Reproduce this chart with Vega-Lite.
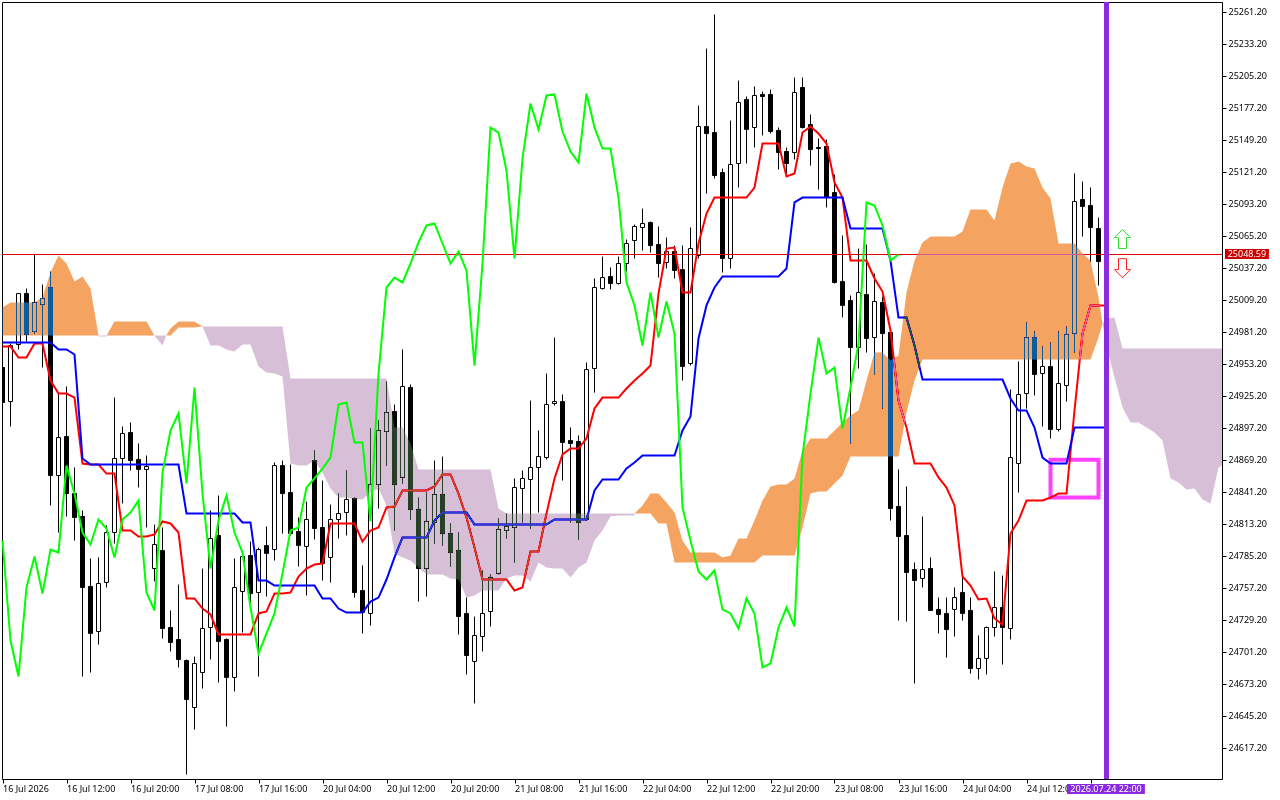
{"$schema":"https://vega.github.io/schema/vega-lite/v6.json","width":1220,"height":777,"autosize":{"type":"none"},"padding":{"left":2,"top":2,"right":58,"bottom":21},"background":"white","view":{"stroke":"black","strokeWidth":1,"fill":"white"},"config":{"font":"Noto Sans"},
"datasets":{"bars":[
{"i":0,"o":24949.7,"h":24955.8,"l":24919.1,"c":24919.1,"t":24968.1,"k":24971.6,"g":24798.3},
{"i":1,"o":24919.9,"h":24970.7,"l":24898.1,"c":24968.9,"t":24968.1,"k":24971.6,"g":24710.8},
{"i":2,"o":24969.8,"h":25014.4,"l":24965.5,"c":25014.4,"t":24958.4,"k":24971.6,"g":24679.3},
{"i":3,"o":25014.4,"h":25018.8,"l":24972.4,"c":24978.6,"t":24958.4,"k":24971.6,"g":24757.2},
{"i":4,"o":24981.2,"h":25048.6,"l":24979.4,"c":25006.6,"t":24970.7,"k":24971.6,"g":24784.3},
{"i":5,"o":25004.8,"h":25022.3,"l":24949.7,"c":25010.1,"t":24970.7,"k":24971.6,"g":24751.9},
{"i":6,"o":25019.7,"h":25033.7,"l":24829.0,"c":24855.2,"t":24938.3,"k":24971.6,"g":24790.4},
{"i":7,"o":24855.2,"h":24926.9,"l":24805.3,"c":24888.4,"t":24926.9,"k":24965.5,"g":24787.8},
{"i":8,"o":24889.3,"h":24933.1,"l":24819.3,"c":24839.4,"t":24926.9,"k":24965.5,"g":24863.9},
{"i":9,"o":24839.4,"h":24862.2,"l":24798.3,"c":24818.4,"t":24923.4,"k":24961.1,"g":24839.4},
{"i":10,"o":24819.3,"h":24824.6,"l":24679.3,"c":24757.2,"t":24865.7,"k":24870.1,"g":24805.3},
{"i":11,"o":24758.1,"h":24782.6,"l":24682.8,"c":24717.0,"t":24864.8,"k":24864.8,"g":24794.8},
{"i":12,"o":24718.7,"h":24783.5,"l":24707.3,"c":24760.7,"t":24864.8,"k":24864.8,"g":24816.7},
{"i":13,"o":24761.6,"h":24811.4,"l":24757.2,"c":24805.3,"t":24856.9,"k":24864.8,"g":24808.8},
{"i":14,"o":24805.3,"h":24923.4,"l":24795.7,"c":24870.1,"t":24856.9,"k":24864.8,"g":24783.5},
{"i":15,"o":24870.1,"h":24898.1,"l":24830.7,"c":24892.0,"t":24807.1,"k":24864.8,"g":24816.7},
{"i":16,"o":24892.8,"h":24901.6,"l":24859.6,"c":24868.3,"t":24807.1,"k":24864.8,"g":24822.8},
{"i":17,"o":24869.2,"h":24883.2,"l":24844.7,"c":24860.5,"t":24801.8,"k":24864.8,"g":24833.3},
{"i":18,"o":24860.5,"h":24872.7,"l":24809.7,"c":24863.1,"t":24801.8,"k":24864.8,"g":24752.8},
{"i":19,"o":24773.8,"h":24812.3,"l":24762.5,"c":24794.8,"t":24803.6,"k":24864.8,"g":24737.1},
{"i":20,"o":24789.6,"h":24809.7,"l":24712.6,"c":24721.3,"t":24815.0,"k":24864.8,"g":24857.8},
{"i":21,"o":24722.2,"h":24737.1,"l":24701.2,"c":24709.1,"t":24813.2,"k":24864.8,"g":24894.6},
{"i":22,"o":24711.7,"h":24759.8,"l":24687.2,"c":24694.2,"t":24805.3,"k":24864.8,"g":24909.5},
{"i":23,"o":24693.3,"h":24694.2,"l":24593.6,"c":24659.2,"t":24747.6,"k":24821.9,"g":24848.2},
{"i":24,"o":24652.2,"h":24696.8,"l":24632.9,"c":24690.7,"t":24747.6,"k":24821.9,"g":24932.2},
{"i":25,"o":24682.8,"h":24773.8,"l":24668.8,"c":24721.3,"t":24738.8,"k":24821.9,"g":24839.4},
{"i":26,"o":24722.2,"h":24824.6,"l":24694.2,"c":24800.1,"t":24733.6,"k":24821.9,"g":24773.8},
{"i":27,"o":24802.7,"h":24837.7,"l":24674.1,"c":24709.9,"t":24716.1,"k":24821.9,"g":24815.8},
{"i":28,"o":24711.7,"h":24712.6,"l":24635.6,"c":24678.5,"t":24716.1,"k":24821.9,"g":24837.7},
{"i":29,"o":24678.5,"h":24782.6,"l":24666.2,"c":24757.2,"t":24716.1,"k":24821.9,"g":24805.3},
{"i":30,"o":24753.7,"h":24787.8,"l":24717.8,"c":24784.3,"t":24716.1,"k":24814.1,"g":24787.8},
{"i":31,"o":24785.2,"h":24797.4,"l":24739.7,"c":24751.9,"t":24716.1,"k":24814.1,"g":24739.7},
{"i":32,"o":24752.8,"h":24792.2,"l":24679.3,"c":24790.4,"t":24734.5,"k":24763.3,"g":24699.4},
{"i":33,"o":24793.9,"h":24810.6,"l":24749.3,"c":24787.0,"t":24736.2,"k":24763.3,"g":24717.0},
{"i":34,"o":24790.4,"h":24866.6,"l":24780.8,"c":24863.9,"t":24751.9,"k":24758.9,"g":24734.5},
{"i":35,"o":24863.9,"h":24868.3,"l":24804.4,"c":24839.4,"t":24751.9,"k":24758.9,"g":24769.5},
{"i":36,"o":24840.3,"h":24864.8,"l":24802.7,"c":24804.4,"t":24752.8,"k":24758.9,"g":24807.1},
{"i":37,"o":24806.2,"h":24818.4,"l":24775.6,"c":24793.9,"t":24766.8,"k":24758.9,"g":24809.7},
{"i":38,"o":24793.1,"h":24832.4,"l":24750.2,"c":24816.7,"t":24773.8,"k":24758.9,"g":24844.7},
{"i":39,"o":24868.3,"h":24877.1,"l":24799.2,"c":24808.8,"t":24777.3,"k":24758.9,"g":24852.6},
{"i":40,"o":24809.7,"h":24850.8,"l":24763.3,"c":24778.2,"t":24778.2,"k":24747.6,"g":24861.3},
{"i":41,"o":24783.5,"h":24829.8,"l":24761.6,"c":24816.7,"t":24813.2,"k":24747.6,"g":24870.9},
{"i":42,"o":24816.7,"h":24839.4,"l":24800.1,"c":24821.9,"t":24813.2,"k":24738.8,"g":24917.3},
{"i":43,"o":24822.8,"h":24859.6,"l":24802.7,"c":24834.2,"t":24813.2,"k":24735.3,"g":24919.1},
{"i":44,"o":24835.1,"h":24835.9,"l":24748.4,"c":24752.8,"t":24813.2,"k":24735.3,"g":24884.1},
{"i":45,"o":24754.6,"h":24776.5,"l":24717.0,"c":24735.3,"t":24797.4,"k":24735.3,"g":24884.1},
{"i":46,"o":24734.5,"h":24896.3,"l":24723.9,"c":24847.3,"t":24807.1,"k":24744.9,"g":24815.0},
{"i":47,"o":24847.3,"h":24903.3,"l":24826.3,"c":24894.6,"t":24809.7,"k":24748.4,"g":24944.4},
{"i":48,"o":24893.7,"h":24937.5,"l":24863.9,"c":24910.3,"t":24827.2,"k":24764.2,"g":25019.7},
{"i":49,"o":24911.2,"h":24917.3,"l":24807.1,"c":24847.3,"t":24828.1,"k":24783.5,"g":25028.4},
{"i":50,"o":24853.5,"h":24965.5,"l":24848.2,"c":24933.1,"t":24842.1,"k":24801.0,"g":25024.1},
{"i":51,"o":24932.2,"h":24934.8,"l":24816.7,"c":24825.5,"t":24842.1,"k":24801.0,"g":25040.7},
{"i":52,"o":24825.5,"h":24835.9,"l":24744.9,"c":24773.8,"t":24842.1,"k":24801.0,"g":25059.1},
{"i":53,"o":24773.8,"h":24840.3,"l":24749.3,"c":24815.0,"t":24842.1,"k":24801.0,"g":25074.0},
{"i":54,"o":24814.1,"h":24868.3,"l":24795.7,"c":24838.6,"t":24845.6,"k":24815.8,"g":25075.7},
{"i":55,"o":24838.6,"h":24871.8,"l":24793.9,"c":24804.4,"t":24856.1,"k":24822.8,"g":25058.2},
{"i":56,"o":24804.4,"h":24813.2,"l":24775.6,"c":24787.8,"t":24856.1,"k":24822.8,"g":25040.7},
{"i":57,"o":24789.6,"h":24805.3,"l":24716.1,"c":24731.8,"t":24839.4,"k":24822.8,"g":25051.2},
{"i":58,"o":24734.5,"h":24748.4,"l":24681.1,"c":24697.7,"t":24818.4,"k":24822.8,"g":25034.6},
{"i":59,"o":24692.5,"h":24731.8,"l":24655.7,"c":24715.2,"t":24792.2,"k":24812.3,"g":24951.4},
{"i":60,"o":24714.3,"h":24772.1,"l":24701.2,"c":24734.5,"t":24764.2,"k":24812.3,"g":25040.7},
{"i":61,"o":24736.2,"h":24768.6,"l":24723.1,"c":24766.0,"t":24764.2,"k":24812.3,"g":25159.7},
{"i":62,"o":24769.5,"h":24817.6,"l":24768.6,"c":24808.0,"t":24764.2,"k":24812.3,"g":25155.3},
{"i":63,"o":24807.1,"h":24821.9,"l":24800.1,"c":24810.6,"t":24764.2,"k":24812.3,"g":25122.1},
{"i":64,"o":24809.7,"h":24852.6,"l":24779.1,"c":24844.7,"t":24754.6,"k":24812.3,"g":25045.1},
{"i":65,"o":24843.8,"h":24859.6,"l":24814.1,"c":24852.6,"t":24757.2,"k":24812.3,"g":25132.6},
{"i":66,"o":24851.7,"h":24920.8,"l":24808.8,"c":24862.2,"t":24788.7,"k":24812.3,"g":25180.7},
{"i":67,"o":24862.2,"h":24894.6,"l":24822.8,"c":24871.8,"t":24788.7,"k":24812.3,"g":25158.0},
{"i":68,"o":24870.9,"h":24944.4,"l":24869.2,"c":24917.3,"t":24821.9,"k":24812.3,"g":25187.7},
{"i":69,"o":24918.2,"h":24975.9,"l":24916.4,"c":24919.9,"t":24852.6,"k":24816.7,"g":25188.6},
{"i":70,"o":24919.9,"h":24926.1,"l":24850.8,"c":24884.1,"t":24873.6,"k":24816.7,"g":25156.2},
{"i":71,"o":24885.8,"h":24897.2,"l":24814.1,"c":24883.2,"t":24878.8,"k":24816.7,"g":25138.7},
{"i":72,"o":24884.9,"h":24890.2,"l":24799.2,"c":24814.1,"t":24878.8,"k":24816.7,"g":25129.0},
{"i":73,"o":24816.7,"h":24954.1,"l":24815.8,"c":24947.9,"t":24887.6,"k":24816.7,"g":25189.4},
{"i":74,"o":24948.8,"h":25027.6,"l":24927.8,"c":25019.7,"t":24913.8,"k":24842.1,"g":25159.7},
{"i":75,"o":25018.8,"h":25046.8,"l":25018.0,"c":25028.4,"t":24923.4,"k":24851.7,"g":25141.3},
{"i":76,"o":25029.3,"h":25037.2,"l":25018.0,"c":25023.2,"t":24923.4,"k":24851.7,"g":25141.3},
{"i":77,"o":25023.2,"h":25046.8,"l":25022.3,"c":25040.7,"t":24923.4,"k":24851.7,"g":25098.4},
{"i":78,"o":25040.7,"h":25061.7,"l":25033.7,"c":25058.2,"t":24931.3,"k":24861.3,"g":25024.1},
{"i":79,"o":25060.8,"h":25074.8,"l":25045.1,"c":25073.1,"t":24938.3,"k":24866.6,"g":25004.0},
{"i":80,"o":25072.2,"h":25088.8,"l":25052.1,"c":25075.7,"t":24944.4,"k":24872.7,"g":24968.9},
{"i":81,"o":25076.6,"h":25077.4,"l":25050.3,"c":25056.4,"t":24951.4,"k":24872.7,"g":25015.3},
{"i":82,"o":25057.3,"h":25073.1,"l":25028.4,"c":25040.7,"t":25014.4,"k":24872.7,"g":24975.9},
{"i":83,"o":25041.6,"h":25063.4,"l":25036.3,"c":25051.2,"t":25053.8,"k":24872.7,"g":25007.5},
{"i":84,"o":25051.2,"h":25056.4,"l":25027.6,"c":25034.6,"t":25054.7,"k":24872.7,"g":24979.4},
{"i":85,"o":25035.4,"h":25056.4,"l":24938.3,"c":24950.6,"t":25015.3,"k":24894.6,"g":24827.2},
{"i":86,"o":24953.2,"h":25072.2,"l":24951.4,"c":25053.8,"t":25015.3,"k":24906.8,"g":24798.3},
{"i":87,"o":25047.7,"h":25178.9,"l":25045.1,"c":25160.6,"t":25058.2,"k":24975.1,"g":24771.2},
{"i":88,"o":25160.6,"h":25228.8,"l":25101.9,"c":25154.4,"t":25084.4,"k":25004.0,"g":24764.2},
{"i":89,"o":25155.3,"h":25258.6,"l":25115.1,"c":25117.7,"t":25098.4,"k":25019.7,"g":24772.1},
{"i":90,"o":25120.3,"h":25123.8,"l":25032.8,"c":25045.1,"t":25098.4,"k":25029.3,"g":24738.0},
{"i":91,"o":25045.1,"h":25165.8,"l":25036.3,"c":25127.3,"t":25098.4,"k":25029.3,"g":24734.5},
{"i":92,"o":25128.2,"h":25200.8,"l":25107.2,"c":25181.6,"t":25098.4,"k":25029.3,"g":24721.3},
{"i":93,"o":25184.2,"h":25186.8,"l":25128.2,"c":25158.0,"t":25098.4,"k":25029.3,"g":24747.6},
{"i":94,"o":25159.7,"h":25195.6,"l":25142.2,"c":25187.7,"t":25107.2,"k":25029.3,"g":24734.5},
{"i":95,"o":25188.6,"h":25191.2,"l":25152.7,"c":25186.8,"t":25145.7,"k":25029.3,"g":24687.2},
{"i":96,"o":25188.6,"h":25192.9,"l":25154.4,"c":25156.2,"t":25145.7,"k":25029.3,"g":24690.7},
{"i":97,"o":25157.1,"h":25159.7,"l":25122.9,"c":25137.8,"t":25145.7,"k":25029.3,"g":24722.2},
{"i":98,"o":25138.7,"h":25142.2,"l":25119.5,"c":25128.2,"t":25116.8,"k":25036.3,"g":24739.7},
{"i":99,"o":25137.8,"h":25203.4,"l":25131.7,"c":25190.3,"t":25119.5,"k":25094.1,"g":24723.1},
{"i":100,"o":25194.7,"h":25203.4,"l":25158.8,"c":25159.7,"t":25155.3,"k":25098.4,"g":24872.7},
{"i":101,"o":25162.3,"h":25171.1,"l":25126.4,"c":25140.4,"t":25160.6,"k":25098.4,"g":24926.9},
{"i":102,"o":25142.2,"h":25150.1,"l":25105.4,"c":25141.3,"t":25154.4,"k":25098.4,"g":24975.9},
{"i":103,"o":25143.1,"h":25149.2,"l":25089.7,"c":25098.4,"t":25145.7,"k":25098.4,"g":24944.4},
{"i":104,"o":25102.8,"h":25118.6,"l":25023.2,"c":25024.1,"t":25111.6,"k":25098.4,"g":24949.7},
{"i":105,"o":25025.0,"h":25065.2,"l":24993.5,"c":25004.0,"t":25098.4,"k":25098.4,"g":24896.3},
{"i":106,"o":25008.3,"h":25012.7,"l":24883.2,"c":24967.2,"t":25043.3,"k":25071.3,"g":24932.2},
{"i":107,"o":24967.2,"h":25053.8,"l":24948.8,"c":25015.3,"t":25043.3,"k":25071.3,"g":24970.7},
{"i":108,"o":25013.6,"h":25057.3,"l":24962.8,"c":24975.1,"t":25043.3,"k":25071.3,"g":25094.1},
{"i":109,"o":24975.9,"h":25031.9,"l":24943.6,"c":25007.5,"t":25027.6,"k":25071.3,"g":25091.5},
{"i":110,"o":25006.6,"h":25011.8,"l":24913.8,"c":24979.4,"t":25016.2,"k":25071.3,"g":25074.0},
{"i":111,"o":24980.3,"h":24981.2,"l":24815.8,"c":24826.3,"t":24982.1,"k":25043.3,"g":25043.3},
{"i":112,"o":24828.1,"h":24860.5,"l":24728.3,"c":24801.8,"t":24920.8,"k":24993.5,"g":25048.6},
{"i":113,"o":24802.7,"h":24845.6,"l":24727.4,"c":24770.3,"t":24897.2,"k":24993.5},
{"i":114,"o":24772.9,"h":24779.1,"l":24673.2,"c":24763.3,"t":24865.7,"k":24968.9},
{"i":115,"o":24765.1,"h":24819.3,"l":24757.2,"c":24772.9,"t":24865.7,"k":24939.2},
{"i":116,"o":24773.8,"h":24783.5,"l":24737.1,"c":24737.1,"t":24865.7,"k":24939.2},
{"i":117,"o":24738.0,"h":24748.4,"l":24717.0,"c":24733.6,"t":24853.5,"k":24939.2},
{"i":118,"o":24734.5,"h":24748.4,"l":24695.9,"c":24720.4,"t":24844.7,"k":24939.2},
{"i":119,"o":24738.0,"h":24757.2,"l":24714.3,"c":24748.4,"t":24829.0,"k":24939.2},
{"i":120,"o":24752.8,"h":24766.8,"l":24728.3,"c":24734.5,"t":24766.8,"k":24939.2},
{"i":121,"o":24737.1,"h":24748.4,"l":24681.9,"c":24686.3,"t":24758.9,"k":24939.2},
{"i":122,"o":24686.3,"h":24715.2,"l":24676.7,"c":24695.1,"t":24746.7,"k":24939.2},
{"i":123,"o":24695.1,"h":24723.1,"l":24681.1,"c":24722.2,"t":24747.6,"k":24939.2},
{"i":124,"o":24722.2,"h":24771.2,"l":24714.3,"c":24739.7,"t":24730.1,"k":24939.2},
{"i":125,"o":24739.7,"h":24767.7,"l":24689.8,"c":24722.2,"t":24724.8,"k":24939.2},
{"i":126,"o":24721.3,"h":24930.5,"l":24711.7,"c":24870.9,"t":24804.4,"k":24922.6},
{"i":127,"o":24865.7,"h":24955.0,"l":24840.3,"c":24926.1,"t":24815.8,"k":24912.1},
{"i":128,"o":24926.9,"h":24989.1,"l":24913.8,"c":24975.9,"t":24833.3,"k":24912.1},
{"i":129,"o":24975.9,"h":24981.2,"l":24925.2,"c":24943.6,"t":24833.3,"k":24897.2},
{"i":130,"o":24944.4,"h":24968.1,"l":24898.1,"c":24950.6,"t":24833.3,"k":24870.9},
{"i":131,"o":24950.6,"h":24971.6,"l":24887.6,"c":24895.5,"t":24835.9,"k":24865.7},
{"i":132,"o":24895.5,"h":24981.2,"l":24893.7,"c":24935.7,"t":24839.4,"k":24865.7},
{"i":133,"o":24933.9,"h":24985.6,"l":24919.9,"c":24978.6,"t":24839.4,"k":24865.7},
{"i":134,"o":24979.4,"h":25119.5,"l":24962.8,"c":25095.0,"t":24912.1,"k":24897.2},
{"i":135,"o":25096.7,"h":25112.4,"l":25064.3,"c":25090.6,"t":24979.4,"k":24897.2},
{"i":136,"o":25091.5,"h":25107.2,"l":25042.4,"c":25072.2,"t":25004.0,"k":24897.2},
{"i":137,"o":25071.3,"h":25080.9,"l":25021.4,"c":25042.4,"t":25004.0,"k":24897.2},
{"i":138,"t":25004.0,"k":24897.2}
],
"cloud":[
{"s":"A1","kind":"up","i":0,"top":25002.2,"bot":24977.7},{"s":"A1","kind":"up","i":1,"top":25006.6,"bot":24977.7},{"s":"A1","kind":"up","i":2,"top":25006.6,"bot":24977.7},{"s":"A1","kind":"up","i":3,"top":25006.6,"bot":24977.7},{"s":"A1","kind":"up","i":4,"top":25006.6,"bot":24977.7},{"s":"A1","kind":"up","i":5,"top":25011.0,"bot":24977.7},{"s":"A1","kind":"up","i":6,"top":25032.8,"bot":24977.7},{"s":"A1","kind":"up","i":7,"top":25047.7,"bot":24977.7},{"s":"A1","kind":"up","i":8,"top":25040.7,"bot":24977.7},{"s":"A1","kind":"up","i":9,"top":25025.0,"bot":24977.7},{"s":"A1","kind":"up","i":10,"top":25029.3,"bot":24977.7},{"s":"A1","kind":"up","i":11,"top":25018.8,"bot":24977.7},{"s":"A1","kind":"up","i":12,"top":24977.7,"bot":24977.7},
{"s":"B1","kind":"down","i":12,"top":24977.7,"bot":24976.8},{"s":"B1","kind":"down","i":13,"top":24977.7,"bot":24976.8},
{"s":"A2","kind":"up","i":13,"top":24977.7,"bot":24977.7},{"s":"A2","kind":"up","i":14,"top":24989.9,"bot":24977.7},{"s":"A2","kind":"up","i":15,"top":24989.9,"bot":24977.7},{"s":"A2","kind":"up","i":16,"top":24989.9,"bot":24977.7},{"s":"A2","kind":"up","i":17,"top":24989.9,"bot":24977.7},{"s":"A2","kind":"up","i":18,"top":24989.9,"bot":24977.7},{"s":"A2","kind":"up","i":19,"top":24977.7,"bot":24977.7},
{"s":"B2","kind":"down","i":19,"top":24977.7,"bot":24977.7},{"s":"B2","kind":"down","i":20,"top":24977.7,"bot":24968.9},{"s":"B2","kind":"down","i":20.46,"top":24977.7,"bot":24977.7},
{"s":"A3","kind":"up","i":20.46,"top":24977.7,"bot":24977.7},{"s":"A3","kind":"up","i":21,"top":24983.8,"bot":24977.7},{"s":"A3","kind":"up","i":22,"top":24989.9,"bot":24984.7},{"s":"A3","kind":"up","i":23,"top":24989.9,"bot":24984.7},{"s":"A3","kind":"up","i":24,"top":24989.9,"bot":24984.7},{"s":"A3","kind":"up","i":25,"top":24985.6,"bot":24985.6},
{"s":"B3","kind":"down","i":25,"top":24985.6,"bot":24985.6},{"s":"B3","kind":"down","i":26,"top":24985.6,"bot":24968.9},{"s":"B3","kind":"down","i":27,"top":24985.6,"bot":24968.9},{"s":"B3","kind":"down","i":28,"top":24985.6,"bot":24965.5},{"s":"B3","kind":"down","i":29,"top":24985.6,"bot":24963.7},{"s":"B3","kind":"down","i":30,"top":24985.6,"bot":24969.8},{"s":"B3","kind":"down","i":31,"top":24985.6,"bot":24969.8},{"s":"B3","kind":"down","i":32,"top":24985.6,"bot":24950.6},{"s":"B3","kind":"down","i":33,"top":24985.6,"bot":24945.3},{"s":"B3","kind":"down","i":34,"top":24985.6,"bot":24944.4},{"s":"B3","kind":"down","i":35,"top":24985.6,"bot":24941.8},{"s":"B3","kind":"down","i":36,"top":24940.1,"bot":24865.7},{"s":"B3","kind":"down","i":37,"top":24940.1,"bot":24863.9},{"s":"B3","kind":"down","i":38,"top":24940.1,"bot":24863.9},{"s":"B3","kind":"down","i":39,"top":24940.1,"bot":24868.3},{"s":"B3","kind":"down","i":40,"top":24940.1,"bot":24857.8},{"s":"B3","kind":"down","i":41,"top":24940.1,"bot":24843.8},{"s":"B3","kind":"down","i":42,"top":24940.1,"bot":24835.9},{"s":"B3","kind":"down","i":43,"top":24940.1,"bot":24835.9},{"s":"B3","kind":"down","i":44,"top":24940.1,"bot":24834.2},{"s":"B3","kind":"down","i":45,"top":24940.1,"bot":24834.2},{"s":"B3","kind":"down","i":46,"top":24940.1,"bot":24840.3},{"s":"B3","kind":"down","i":47,"top":24940.1,"bot":24843.8},{"s":"B3","kind":"down","i":48,"top":24940.1,"bot":24829.0},{"s":"B3","kind":"down","i":49,"top":24897.2,"bot":24787.0},{"s":"B3","kind":"down","i":50,"top":24897.2,"bot":24783.5},{"s":"B3","kind":"down","i":51,"top":24883.2,"bot":24780.8},{"s":"B3","kind":"down","i":52,"top":24860.5,"bot":24774.7},{"s":"B3","kind":"down","i":53,"top":24860.5,"bot":24768.6},{"s":"B3","kind":"down","i":54,"top":24860.5,"bot":24768.6},{"s":"B3","kind":"down","i":55,"top":24860.5,"bot":24768.6},{"s":"B3","kind":"down","i":56,"top":24860.5,"bot":24765.1},{"s":"B3","kind":"down","i":57,"top":24860.5,"bot":24764.2},{"s":"B3","kind":"down","i":58,"top":24860.5,"bot":24748.4},{"s":"B3","kind":"down","i":59,"top":24860.5,"bot":24750.2},{"s":"B3","kind":"down","i":60,"top":24860.5,"bot":24754.6},{"s":"B3","kind":"down","i":61,"top":24860.5,"bot":24754.6},{"s":"B3","kind":"down","i":62,"top":24826.3,"bot":24754.6},{"s":"B3","kind":"down","i":63,"top":24821.9,"bot":24765.1},{"s":"B3","kind":"down","i":64,"top":24821.9,"bot":24767.7},{"s":"B3","kind":"down","i":65,"top":24821.9,"bot":24767.7},{"s":"B3","kind":"down","i":66,"top":24821.9,"bot":24762.5},{"s":"B3","kind":"down","i":67,"top":24821.9,"bot":24779.1},{"s":"B3","kind":"down","i":68,"top":24821.9,"bot":24774.7},{"s":"B3","kind":"down","i":69,"top":24821.9,"bot":24773.8},{"s":"B3","kind":"down","i":70,"top":24821.9,"bot":24773.8},{"s":"B3","kind":"down","i":71,"top":24821.9,"bot":24766.0},{"s":"B3","kind":"down","i":72,"top":24821.9,"bot":24774.7},{"s":"B3","kind":"down","i":73,"top":24821.9,"bot":24779.1},{"s":"B3","kind":"down","i":74,"top":24821.9,"bot":24798.3},{"s":"B3","kind":"down","i":75,"top":24821.9,"bot":24807.1},{"s":"B3","kind":"down","i":76,"top":24821.9,"bot":24819.3},{"s":"B3","kind":"down","i":77,"top":24821.9,"bot":24820.2},{"s":"B3","kind":"down","i":78,"top":24821.9,"bot":24820.2},{"s":"B3","kind":"down","i":79,"top":24821.9,"bot":24820.2},
{"s":"A4","kind":"up","i":79,"top":24821.9,"bot":24821.9},{"s":"A4","kind":"up","i":80,"top":24829.0,"bot":24821.9},{"s":"A4","kind":"up","i":81,"top":24839.4,"bot":24821.9},{"s":"A4","kind":"up","i":82,"top":24839.4,"bot":24813.2},{"s":"A4","kind":"up","i":83,"top":24831.6,"bot":24813.2},{"s":"A4","kind":"up","i":84,"top":24822.8,"bot":24779.1},{"s":"A4","kind":"up","i":85,"top":24798.3,"bot":24779.1},{"s":"A4","kind":"up","i":86,"top":24787.8,"bot":24779.1},{"s":"A4","kind":"up","i":87,"top":24787.8,"bot":24779.1},{"s":"A4","kind":"up","i":88,"top":24787.8,"bot":24779.1},{"s":"A4","kind":"up","i":89,"top":24787.8,"bot":24779.1},{"s":"A4","kind":"up","i":90,"top":24783.5,"bot":24779.1},{"s":"A4","kind":"up","i":91,"top":24785.2,"bot":24779.1},{"s":"A4","kind":"up","i":92,"top":24800.1,"bot":24779.1},{"s":"A4","kind":"up","i":93,"top":24800.1,"bot":24779.1},{"s":"A4","kind":"up","i":94,"top":24815.8,"bot":24779.1},{"s":"A4","kind":"up","i":95,"top":24833.3,"bot":24785.2},{"s":"A4","kind":"up","i":96,"top":24845.6,"bot":24785.2},{"s":"A4","kind":"up","i":97,"top":24847.3,"bot":24785.2},{"s":"A4","kind":"up","i":98,"top":24847.3,"bot":24785.2},{"s":"A4","kind":"up","i":99,"top":24852.6,"bot":24785.2},{"s":"A4","kind":"up","i":100,"top":24877.1,"bot":24809.7},{"s":"A4","kind":"up","i":101,"top":24887.6,"bot":24839.4},{"s":"A4","kind":"up","i":102,"top":24887.6,"bot":24841.2},{"s":"A4","kind":"up","i":103,"top":24887.6,"bot":24841.2},{"s":"A4","kind":"up","i":104,"top":24894.6,"bot":24848.2},{"s":"A4","kind":"up","i":105,"top":24901.6,"bot":24855.2},{"s":"A4","kind":"up","i":106,"top":24907.7,"bot":24871.8},{"s":"A4","kind":"up","i":107,"top":24912.1,"bot":24871.8},{"s":"A4","kind":"up","i":108,"top":24938.3,"bot":24871.8},{"s":"A4","kind":"up","i":109,"top":24962.8,"bot":24871.8},{"s":"A4","kind":"up","i":110,"top":24962.8,"bot":24871.8},{"s":"A4","kind":"up","i":111,"top":24955.8,"bot":24871.8},{"s":"A4","kind":"up","i":112,"top":24960.2,"bot":24871.8},{"s":"A4","kind":"up","i":113,"top":25015.3,"bot":24910.3},{"s":"A4","kind":"up","i":114,"top":25043.3,"bot":24938.3},{"s":"A4","kind":"up","i":115,"top":25059.1,"bot":24956.7},{"s":"A4","kind":"up","i":116,"top":25064.3,"bot":24956.7},{"s":"A4","kind":"up","i":117,"top":25064.3,"bot":24956.7},{"s":"A4","kind":"up","i":118,"top":25064.3,"bot":24956.7},{"s":"A4","kind":"up","i":119,"top":25064.3,"bot":24956.7},{"s":"A4","kind":"up","i":120,"top":25068.7,"bot":24956.7},{"s":"A4","kind":"up","i":121,"top":25087.9,"bot":24956.7},{"s":"A4","kind":"up","i":122,"top":25087.9,"bot":24956.7},{"s":"A4","kind":"up","i":123,"top":25087.9,"bot":24956.7},{"s":"A4","kind":"up","i":124,"top":25078.3,"bot":24956.7},{"s":"A4","kind":"up","i":125,"top":25107.2,"bot":24956.7},{"s":"A4","kind":"up","i":126,"top":25128.2,"bot":24956.7},{"s":"A4","kind":"up","i":127,"top":25129.9,"bot":24956.7},{"s":"A4","kind":"up","i":128,"top":25125.6,"bot":24956.7},{"s":"A4","kind":"up","i":129,"top":25123.8,"bot":24956.7},{"s":"A4","kind":"up","i":130,"top":25107.2,"bot":24956.7},{"s":"A4","kind":"up","i":131,"top":25097.6,"bot":24956.7},{"s":"A4","kind":"up","i":132,"top":25058.2,"bot":24956.7},{"s":"A4","kind":"up","i":133,"top":25058.2,"bot":24956.7},{"s":"A4","kind":"up","i":134,"top":25058.2,"bot":24956.7},{"s":"A4","kind":"up","i":135,"top":25049.5,"bot":24956.7},{"s":"A4","kind":"up","i":136,"top":25043.3,"bot":24956.7},{"s":"A4","kind":"up","i":137,"top":25011.0,"bot":24975.9},{"s":"A4","kind":"up","i":137.5,"top":24988.2,"bot":24988.2},
{"s":"B4","kind":"down","i":137.5,"top":24988.2,"bot":24988.2},{"s":"B4","kind":"down","i":138,"top":24992.6,"bot":24968.9},{"s":"B4","kind":"down","i":139,"top":24993.5,"bot":24941.0},{"s":"B4","kind":"down","i":140,"top":24966.3,"bot":24914.7},{"s":"B4","kind":"down","i":141,"top":24966.3,"bot":24901.6},{"s":"B4","kind":"down","i":142,"top":24966.3,"bot":24901.6},{"s":"B4","kind":"down","i":143,"top":24966.3,"bot":24897.2},{"s":"B4","kind":"down","i":144,"top":24966.3,"bot":24892.8},{"s":"B4","kind":"down","i":145,"top":24966.3,"bot":24885.8},{"s":"B4","kind":"down","i":146,"top":24966.3,"bot":24852.6},{"s":"B4","kind":"down","i":147,"top":24966.3,"bot":24849.1},{"s":"B4","kind":"down","i":148,"top":24966.3,"bot":24843.0},{"s":"B4","kind":"down","i":149,"top":24966.3,"bot":24843.8},{"s":"B4","kind":"down","i":150,"top":24966.3,"bot":24834.2},{"s":"B4","kind":"down","i":151,"top":24966.3,"bot":24830.7},{"s":"B4","kind":"down","i":152,"top":24966.3,"bot":24862.2},{"s":"B4","kind":"down","i":152.44,"top":24966.3,"bot":24863.9}
]},
"layer":[
{"data":{"name":"bars"},"mark":{"type":"rule","stroke":"black","strokeWidth":1,"clip":true},"encoding":{
"x":{"field":"i","type":"quantitative","scale":{"domain":[-0.0625,152.4375],"nice":false,"zero":false,"padding":0},
"axis":{"title":null,"grid":false,"orient":"bottom","domain":false,"values":[0,8,16,24,32,40,48,56,64,72,80,88,96,104,112,120,128,136],"tickCount":40,"tickSize":4,"tickColor":"black","labelColor":"black","labelFont":"Noto Sans","labelFontSize":9,"labelAlign":"left","labelPadding":1,"labelFlush":false,"labelOverlap":false,"labelBound":false,"labelExpr":"['16 Jul 2026','16 Jul 12:00','16 Jul 20:00','17 Jul 08:00','17 Jul 16:00','20 Jul 04:00','20 Jul 12:00','20 Jul 20:00','21 Jul 08:00','21 Jul 16:00','22 Jul 04:00','22 Jul 12:00','22 Jul 20:00','23 Jul 08:00','23 Jul 16:00','24 Jul 04:00','24 Jul 12:00',''][datum.value/8]"}},
"y":{"field":"l","type":"quantitative","scale":{"domain":[24589.64,25269.515],"nice":false,"zero":false},
"axis":{"title":null,"grid":false,"orient":"right","domain":false,"values":[25261.2,25233.2,25205.2,25177.2,25149.2,25121.2,25093.2,25065.2,25037.2,25009.2,24981.2,24953.2,24925.2,24897.2,24869.2,24841.2,24813.2,24785.2,24757.2,24729.2,24701.2,24673.2,24645.2,24617.2],"tickCount":40,"format":".2f","tickSize":4,"tickColor":"black","labelColor":"black","labelFont":"Noto Sans","labelFontSize":9,"labelPadding":2,"labelOverlap":false,"labelBound":false,"labelFlush":false}},
"y2":{"field":"h"}}},
{"data":{"name":"bars"},"mark":{"type":"bar","size":4,"stroke":"black","strokeWidth":1,"clip":true},"encoding":{
"x":{"field":"i","type":"quantitative"},"y":{"field":"o","type":"quantitative"},"y2":{"field":"c"},
"fill":{"condition":{"test":"datum.c>=datum.o","value":"white"},"value":"black"}}},
{"data":{"values":[{"a":131,"b":137,"p":24868.9,"q":24835.9}]},"mark":{"type":"rect","fillOpacity":0,"stroke":"#FF40FF","strokeWidth":4},"encoding":{"x":{"field":"a","type":"quantitative"},"x2":{"field":"b"},"y":{"field":"p","type":"quantitative"},"y2":{"field":"q"}}},
{"data":{"values":[{"p":25048.59}]},"mark":{"type":"rule","stroke":"#E00000","strokeWidth":1},"encoding":{"y":{"field":"p","type":"quantitative"}}},
{"data":{"name":"bars"},"mark":{"type":"line","stroke":"#FF0000","strokeWidth":2,"interpolate":"linear"},"encoding":{"x":{"field":"i","type":"quantitative"},"y":{"field":"t","type":"quantitative"}}},
{"data":{"name":"bars"},"mark":{"type":"line","stroke":"#0000FF","strokeWidth":2,"interpolate":"linear"},"encoding":{"x":{"field":"i","type":"quantitative"},"y":{"field":"k","type":"quantitative"}}},
{"data":{"name":"cloud"},"mark":{"type":"area","blend":"difference","opacity":1,"interpolate":"linear"},"encoding":{"x":{"field":"i","type":"quantitative"},"y":{"field":"top","type":"quantitative"},"y2":{"field":"bot"},"detail":{"field":"s"},"color":{"field":"kind","type":"nominal","legend":null,"scale":{"domain":["up","down"],"range":["#0B5B9F","#274027"]}}}},
{"data":{"name":"bars"},"mark":{"type":"line","stroke":"#00FF00","strokeWidth":2,"interpolate":"linear"},"encoding":{"x":{"field":"i","type":"quantitative"},"y":{"field":"g","type":"quantitative"}}},
{"data":{"values":[{"i":138}]},"mark":{"type":"rule","stroke":"#8A2BE2","strokeWidth":5},"encoding":{"x":{"field":"i","type":"quantitative"}}},
{"data":{"values":[{"i":140,"p":25062.1}]},"mark":{"type":"point","shape":"M0,-1L0.85,-0.15L0.42,-0.15L0.42,1L-0.42,1L-0.42,-0.15L-0.85,-0.15Z","size":361,"filled":true,"fill":"white","stroke":"#33DD33","strokeWidth":1,"opacity":1},"encoding":{"x":{"field":"i","type":"quantitative"},"y":{"field":"p","type":"quantitative"}}},
{"data":{"values":[{"i":140,"p":25036.6}]},"mark":{"type":"point","shape":"M0,1L0.85,0.15L0.42,0.15L0.42,-1L-0.42,-1L-0.42,0.15L-0.85,0.15Z","size":361,"filled":true,"fill":"white","stroke":"#FF2020","strokeWidth":1,"opacity":1},"encoding":{"x":{"field":"i","type":"quantitative"},"y":{"field":"p","type":"quantitative"}}},
{"data":{"values":[{"a":152.81,"b":158.3,"p":25053.3,"q":25044.6}]},"mark":{"type":"rect","fill":"#CC0000"},"encoding":{"x":{"field":"a","type":"quantitative"},"x2":{"field":"b"},"y":{"field":"p","type":"quantitative"},"y2":{"field":"q"}}},
{"data":{"values":[{"i":155.55,"p":25048.59,"s":"25048.59"}]},"mark":{"type":"text","color":"white","font":"Noto Sans","fontSize":9,"align":"center","baseline":"middle"},"encoding":{"x":{"field":"i","type":"quantitative"},"y":{"field":"p","type":"quantitative"},"text":{"field":"s"}}},
{"data":{"values":[{"a":133.06,"b":142.8,"p":24585.2,"q":24576.5}]},"mark":{"type":"rect","fill":"#8A2BE2"},"encoding":{"x":{"field":"a","type":"quantitative"},"x2":{"field":"b"},"y":{"field":"p","type":"quantitative"},"y2":{"field":"q"}}},
{"data":{"values":[{"i":137.94,"p":24580.8,"s":"2026.07.24 22:00"}]},"mark":{"type":"text","color":"white","font":"Noto Sans","fontSize":9,"align":"center","baseline":"middle"},"encoding":{"x":{"field":"i","type":"quantitative"},"y":{"field":"p","type":"quantitative"},"text":{"field":"s"}}}
]}
